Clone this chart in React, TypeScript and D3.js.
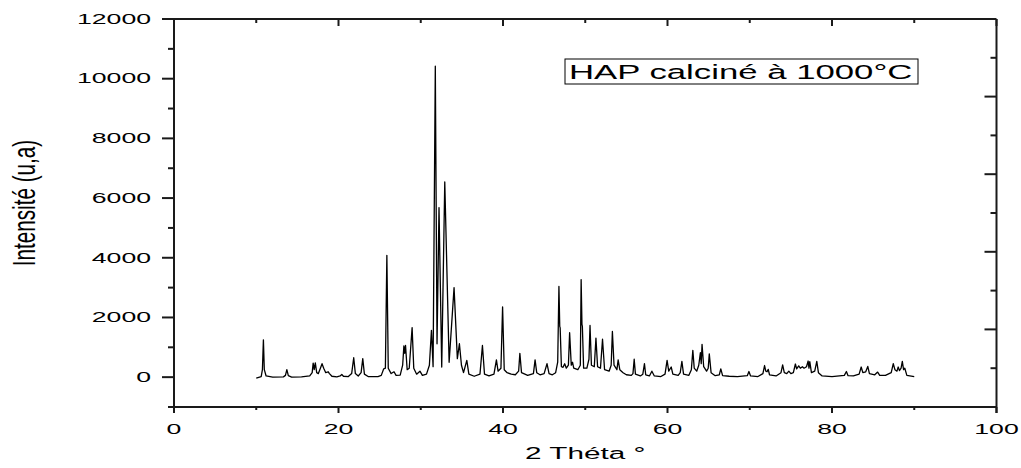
import React from "react";
import * as d3 from "d3";

// ---- data: XRD trace vertices [2θ (°), intensity (u.a.)] ----
const trace: [number, number][] = [
  [10.0, -30], [10.6, 20], [10.75, 250], [10.87, 1250], [10.98, 250], [11.2, 40], [12.0, 0],
  [13.3, 10], [13.55, 60], [13.72, 250], [13.9, 50], [14.3, 0], [15.5, 10], [16.5, 40],
  [16.8, 150], [16.92, 470], [17.05, 250], [17.18, 480], [17.35, 150], [17.55, 120],
  [17.8, 300], [18.0, 450], [18.2, 300], [18.45, 150], [18.75, 180], [18.9, 120], [19.2, 30],
  [19.8, 10], [20.2, 40], [20.4, 90], [20.6, 30], [21.2, 20], [21.6, 120], [21.85, 650],
  [22.05, 120], [22.4, 40], [22.75, 150], [22.95, 620], [23.15, 100], [23.6, 20], [24.8, 20],
  [25.2, 60], [25.5, 280], [25.7, 300], [25.88, 4080], [26.05, 300], [26.4, 120], [26.75, 180],
  [27.0, 60], [27.5, 70], [27.8, 400], [27.95, 1050], [28.05, 800], [28.15, 1060], [28.35, 250],
  [28.6, 300], [28.95, 1660], [29.15, 300], [29.5, 100], [29.9, 200], [30.2, 60], [30.7, 100],
  [31.05, 400], [31.3, 1570], [31.5, 350], [31.77, 10420], [31.98, 1120], [32.22, 5680],
  [32.55, 340], [32.92, 6540], [33.45, 500], [34.05, 3000], [34.45, 620], [34.7, 1120],
  [34.95, 400], [35.2, 150], [35.6, 560], [35.85, 100], [36.5, 30], [37.2, 100], [37.5, 1060],
  [37.75, 100], [38.3, 40], [38.9, 100], [39.2, 580], [39.4, 200], [39.75, 300], [39.95, 2350],
  [40.15, 250], [40.5, 150], [41.0, 100], [41.5, 80], [41.9, 200], [42.05, 800], [42.25, 150],
  [43.0, 60], [43.7, 120], [43.9, 580], [44.1, 150], [44.5, 80], [45.0, 120], [45.35, 450],
  [45.6, 120], [46.0, 80], [46.4, 150], [46.65, 500], [46.8, 3040], [46.9, 1700], [46.95, 1650],
  [47.1, 350], [47.3, 330], [47.5, 450], [47.7, 300], [47.95, 400], [48.1, 1490], [48.3, 400],
  [48.45, 500], [48.6, 300], [49.1, 250], [49.4, 400], [49.5, 3270], [49.6, 1770], [49.65, 1700],
  [49.8, 300], [50.2, 300], [50.45, 600], [50.58, 1730], [50.75, 400], [51.1, 350], [51.3, 1310],
  [51.5, 350], [51.85, 300], [52.1, 1270], [52.35, 250], [52.9, 200], [53.15, 400], [53.3, 1530],
  [53.5, 400], [53.85, 250], [54.0, 580], [54.2, 250], [54.6, 150], [55.0, 80], [55.6, 60],
  [55.8, 120], [55.95, 600], [56.1, 100], [56.7, 40], [57.0, 100], [57.2, 450], [57.35, 80],
  [57.8, 40], [58.1, 200], [58.4, 40], [59.2, 20], [59.7, 100], [59.95, 560], [60.15, 200],
  [60.45, 340], [60.65, 100], [61.3, 60], [61.55, 150], [61.75, 530], [61.95, 100], [62.6, 60],
  [62.9, 250], [63.08, 900], [63.25, 300], [63.55, 200], [63.8, 400], [64.0, 820], [64.1, 450],
  [64.2, 1100], [64.4, 350], [64.75, 200], [64.95, 300], [65.08, 780], [65.3, 150], [65.8, 50],
  [66.3, 80], [66.48, 280], [66.7, 50], [67.5, 30], [68.5, 20], [69.7, 50], [69.9, 190],
  [70.1, 40], [71.0, 20], [71.6, 120], [71.8, 390], [71.95, 200], [72.1, 180], [72.25, 260],
  [72.4, 80], [73.2, 40], [73.8, 150], [74.0, 410], [74.2, 150], [74.5, 120], [74.75, 200],
  [75.0, 120], [75.3, 150], [75.55, 440], [75.7, 280], [75.95, 380], [76.15, 300], [76.4, 350],
  [76.6, 300], [76.9, 350], [77.1, 540], [77.2, 300], [77.3, 520], [77.5, 150], [77.9, 200],
  [78.15, 530], [78.35, 150], [78.8, 40], [80.0, 20], [81.5, 60], [81.75, 190], [81.95, 50],
  [82.6, 40], [83.3, 100], [83.55, 340], [83.75, 150], [84.1, 180], [84.35, 360], [84.55, 120],
  [85.2, 80], [85.55, 170], [85.8, 60], [86.5, 60], [87.2, 150], [87.45, 450], [87.65, 250],
  [87.9, 200], [88.05, 340], [88.2, 220], [88.4, 300], [88.55, 530], [88.7, 250], [88.85, 300],
  [89.1, 60], [90.0, 20],
];

const xMajorTicks = [0, 20, 40, 60, 80, 100];
const xMinorTicks = [10, 30, 50, 70, 90];
const yMajorTicks = [0, 2000, 4000, 6000, 8000, 10000, 12000];
const yMinorTicks = [-1000, 1000, 3000, 5000, 7000, 9000, 11000];
const xDomain: [number, number] = [0, 100];
const yDomain: [number, number] = [-1000, 12000];
const xTitle = "2 Théta °";
const yTitle = "Intensité (u,a)";
const legendText = "HAP calciné à 1000°C";

const W = 1021;
const H = 468;
const L = 174, R = 996.5, T = 19, B = 407;
const SX = 1.8; // horizontal stretch of the original image's text
const FONT = "'Liberation Sans', Arial, sans-serif";
const AX = "#1a1a1a";

export default function App() {
  const x = d3.scaleLinear().domain(xDomain).range([L, R]);
  const y = d3.scaleLinear().domain(yDomain).range([B, T]);
  const line = d3.line<[number, number]>().x((d) => x(d[0])).y((d) => y(d[1]));
  // right axis: independent tick layout (5 major intervals, minor in between)
  const yr = d3.scaleLinear().domain([0, 10]).range([B, T]);
  const rightTicks = d3.range(1, 10);

  return (
    <svg width={W} height={H} style={{ position: "absolute", left: 0, top: 0, background: "#fff" }}>
      <rect x={0} y={0} width={W} height={H} fill="#fff" />
      {/* trace */}
      <path d={line(trace) || ""} fill="none" stroke="#000" strokeWidth={1.3} strokeLinejoin="round" />

      {/* frame */}
      <line x1={L} x2={L} y1={T} y2={B + 6} stroke={AX} strokeWidth={2} />
      <line x1={R} x2={R} y1={T} y2={B + 6} stroke={AX} strokeWidth={2} />
      <line x1={L - 4} x2={R} y1={B} y2={B} stroke={AX} strokeWidth={2} />
      <line x1={L} x2={R} y1={T} y2={T} stroke={AX} strokeWidth={2} />

      {/* left ticks */}
      {yMajorTicks.map((v) => (
        <g key={"ym" + v}>
          <line x1={L - 12} x2={L} y1={y(v)} y2={y(v)} stroke={AX} strokeWidth={2} />
          <text
            transform={`translate(${L - 23},${y(v)}) scale(${SX},1)`}
            textAnchor="end"
            dominantBaseline="central"
            fontFamily={FONT}
            fontSize={14.8}
            fill="#000"
          >
            {v}
          </text>
        </g>
      ))}
      {yMinorTicks.map((v) => (
        <line key={"yn" + v} x1={L - 6} x2={L} y1={y(v)} y2={y(v)} stroke={AX} strokeWidth={2} />
      ))}

      {/* right ticks */}
      {rightTicks.map((v) => (
        <line key={"r" + v} x1={R - (v % 2 === 0 ? 12 : 6)} x2={R} y1={yr(v)} y2={yr(v)} stroke={AX} strokeWidth={2} />
      ))}

      {/* bottom ticks + labels */}
      {xMajorTicks.map((v) => (
        <g key={"xm" + v}>
          <line x1={x(v)} x2={x(v)} y1={B} y2={B + 6} stroke={AX} strokeWidth={2} />
          <line x1={x(v)} x2={x(v)} y1={T} y2={T + 7} stroke={AX} strokeWidth={2} />
          <text
            transform={`translate(${x(v)},${434}) scale(${SX},1)`}
            textAnchor="middle"
            fontFamily={FONT}
            fontSize={14.8}
            fill="#000"
          >
            {v}
          </text>
        </g>
      ))}
      {xMinorTicks.map((v) => (
        <g key={"xn" + v}>
          <line x1={x(v)} x2={x(v)} y1={B} y2={B + 3} stroke={AX} strokeWidth={2} />
          <line x1={x(v)} x2={x(v)} y1={T} y2={T + 4} stroke={AX} strokeWidth={2} />
        </g>
      ))}

      {/* axis titles */}
      <text
        transform={`translate(${(L + R) / 2},${459}) scale(${SX},1)`}
        textAnchor="middle"
        fontFamily={FONT}
        fontSize={16.5}
        fill="#000"
      >
        {xTitle}
      </text>
      <text
        transform={`translate(${27.5 + 7},${203}) scale(1.5,1) rotate(-90)`}
        textAnchor="middle"
        fontFamily={FONT}
        fontSize={20.7}
        fill="#000"
      >
        {yTitle}
      </text>

      {/* legend box */}
      <rect x={565} y={59} width={353} height={25} fill="#fff" stroke="#000" strokeWidth={1} />
      <text
        transform={`translate(${569},${79}) scale(${SX},1)`}
        fontFamily={FONT}
        fontSize={19.3}
        fill="#000"
      >
        {legendText}
      </text>
    </svg>
  );
}
